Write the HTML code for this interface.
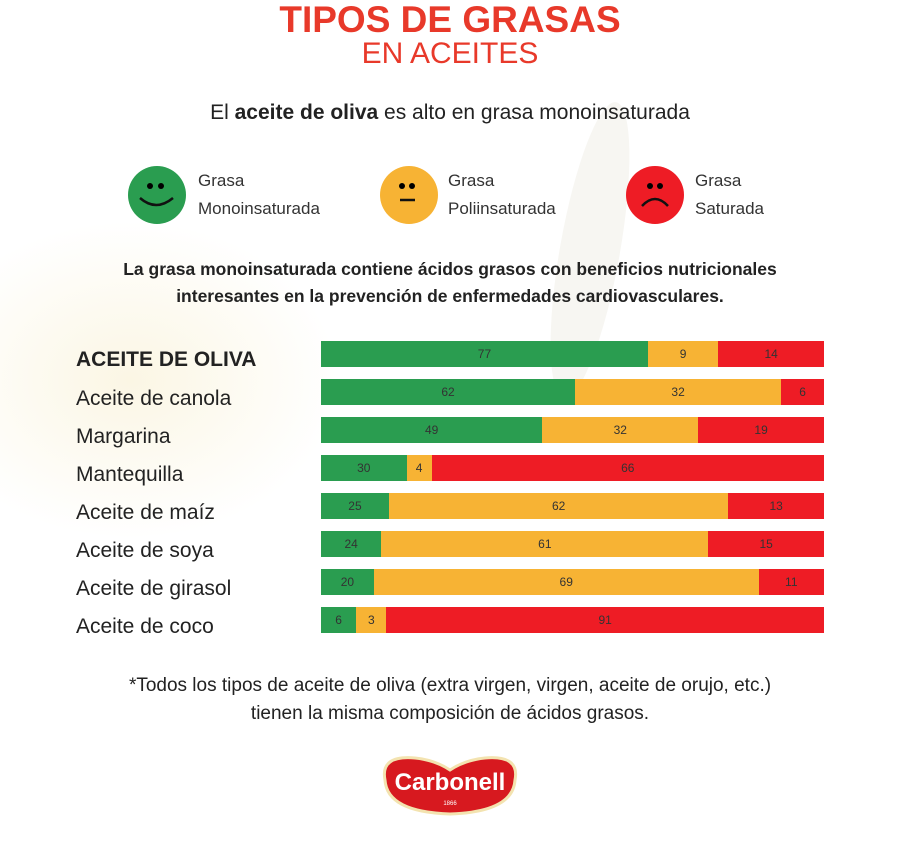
<!DOCTYPE html>
<html><head><meta charset="utf-8"><style>
body{margin:0;width:900px;height:845px;background:#fff;position:relative;overflow:hidden;font-family:"Liberation Sans",sans-serif;color:#222}
.a{position:absolute}
.c{text-align:center;left:0;width:900px}
.bar{position:absolute;left:321px;width:503px;height:26px;display:flex}
.bar div{height:100%;display:flex;align-items:center;justify-content:center;font-size:12px;color:#333}
.g{background:#2a9d50}.o{background:#f7b334}.r{background:#ee1c25}
.lab{position:absolute;left:76px;font-size:21px;color:#222}
.face{position:absolute;width:58px;height:58px;border-radius:50%}
.lg{position:absolute;font-size:17px;line-height:28px;color:#333}
</style></head><body>
<div class="a" style="left:-80px;top:220px;width:420px;height:320px;border-radius:50%;background:radial-gradient(#fbf6e4,#fff 70%)"></div>
<div class="a" style="left:560px;top:100px;width:60px;height:300px;border-radius:50%;background:#f7f6f2;transform:rotate(10deg)"></div>
<div class="a c" style="top:-1px;font-size:37px;font-weight:bold;color:#e8392a">TIPOS DE GRASAS</div>
<div class="a c" style="top:37px;font-size:30px;color:#e8392a">EN ACEITES</div>
<div class="a c" style="top:101px;font-size:21px">El <b>aceite de oliva</b> es alto en grasa monoinsaturada</div>
<div class="face" style="left:128px;top:166px;background:#2a9d50"><svg width="58" height="58"><circle cx="22" cy="20" r="3"/><circle cx="33" cy="20" r="3"/><path d="M12 32 Q28 46 45 32" stroke="#111" stroke-width="2.5" fill="none"/></svg></div>
<div class="lg" style="left:198px;top:167px">Grasa<br>Monoinsaturada</div>
<div class="face" style="left:380px;top:166px;background:#f7b334"><svg width="58" height="58"><circle cx="22" cy="20" r="3"/><circle cx="32" cy="20" r="3"/><path d="M20 34 H35" stroke="#111" stroke-width="2.5"/></svg></div>
<div class="lg" style="left:448px;top:167px">Grasa<br>Poliinsaturada</div>
<div class="face" style="left:626px;top:166px;background:#ee1c25"><svg width="58" height="58"><circle cx="24" cy="20" r="3"/><circle cx="34" cy="20" r="3"/><path d="M16 40 Q29 26 42 40" stroke="#111" stroke-width="2.5" fill="none"/></svg></div>
<div class="lg" style="left:695px;top:167px">Grasa<br>Saturada</div>
<div class="a c" style="top:256px;font-size:17.5px;font-weight:bold;line-height:27px">La grasa monoinsaturada contiene ácidos grasos con beneficios nutricionales<br>interesantes en la prevención de enfermedades cardiovasculares.</div>

<div class="lab" style="top:348px;font-weight:bold">ACEITE DE OLIVA</div>
<div class="bar" style="top:341px"><div class="g" style="width:65%">77</div><div class="o" style="width:14%">9</div><div class="r" style="width:21%">14</div></div>
<div class="lab" style="top:387px">Aceite de canola</div>
<div class="bar" style="top:379px"><div class="g" style="width:50.5%">62</div><div class="o" style="width:41%">32</div><div class="r" style="width:8.5%">6</div></div>
<div class="lab" style="top:425px">Margarina</div>
<div class="bar" style="top:417px"><div class="g" style="width:44%">49</div><div class="o" style="width:31%">32</div><div class="r" style="width:25%">19</div></div>
<div class="lab" style="top:463px">Mantequilla</div>
<div class="bar" style="top:455px"><div class="g" style="width:17%">30</div><div class="o" style="width:5%">4</div><div class="r" style="width:78%">66</div></div>
<div class="lab" style="top:501px">Aceite de maíz</div>
<div class="bar" style="top:493px"><div class="g" style="width:13.5%">25</div><div class="o" style="width:67.5%">62</div><div class="r" style="width:19%">13</div></div>
<div class="lab" style="top:539px">Aceite de soya</div>
<div class="bar" style="top:531px"><div class="g" style="width:12%">24</div><div class="o" style="width:65%">61</div><div class="r" style="width:23%">15</div></div>
<div class="lab" style="top:577px">Aceite de girasol</div>
<div class="bar" style="top:569px"><div class="g" style="width:10.5%">20</div><div class="o" style="width:76.5%">69</div><div class="r" style="width:13%">11</div></div>
<div class="lab" style="top:615px">Aceite de coco</div>
<div class="bar" style="top:607px"><div class="g" style="width:7%">6</div><div class="o" style="width:6%">3</div><div class="r" style="width:87%">91</div></div>

<div class="a c" style="top:672px;font-size:19px;line-height:28px">*Todos los tipos de aceite de oliva (extra virgen, virgen, aceite de orujo, etc.)<br>tienen la misma composición de ácidos grasos.</div>
<svg class="a" style="left:375px;top:750px" width="150" height="70"><path d="M10 30 Q5 5 40 8 Q60 10 75 20 Q90 10 110 8 Q145 5 140 30 Q138 62 75 64 Q12 62 10 30Z" fill="#d7191f" stroke="#f3e3b0" stroke-width="3"/><text x="75" y="40" text-anchor="middle" font-family="Liberation Sans" font-weight="bold" font-size="24" fill="#fff">Carbonell</text><text x="75" y="55" text-anchor="middle" font-family="Liberation Sans" font-size="6" fill="#fff">1866</text></svg>
</body></html>
